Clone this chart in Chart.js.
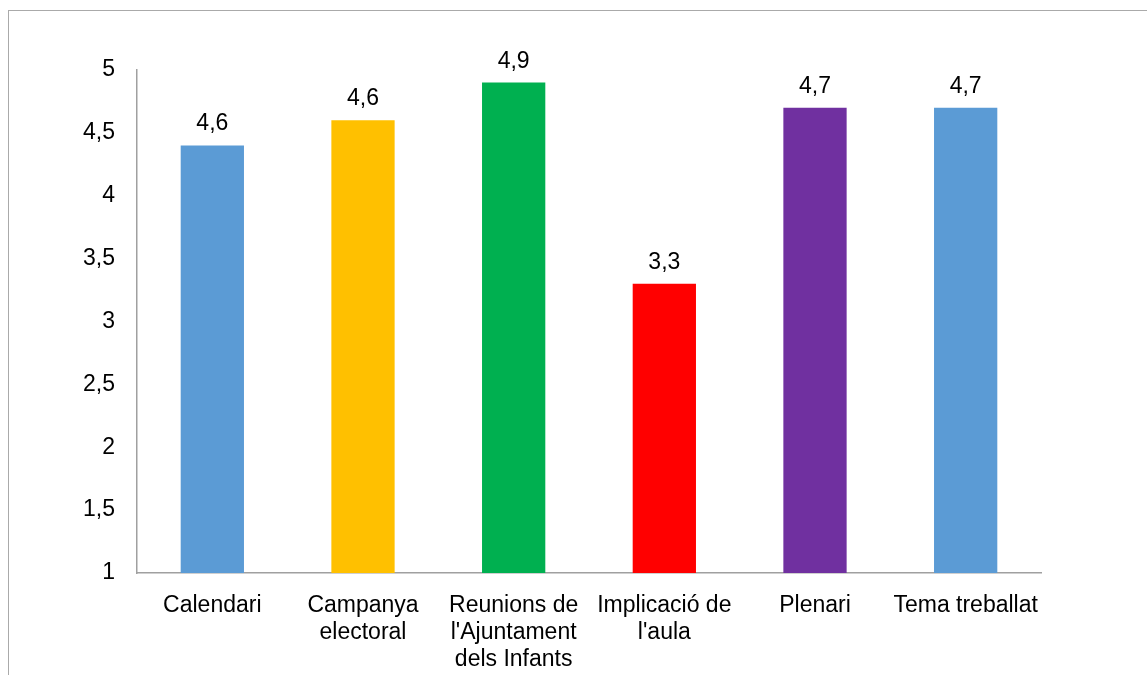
<!DOCTYPE html>
<html>
<head>
<meta charset="utf-8">
<script src="https://cdn.jsdelivr.net/npm/chart.js@4/dist/chart.umd.min.js"></script>
<style>
  html, body { margin: 0; padding: 0; background: #fff; overflow: hidden; }
  #marc { position: absolute; left: 8px; top: 10px; width: 1200px; height: 700px;
          border-left: 1px solid #aaa; border-top: 1px solid #aaa; }
  #wrap { position: absolute; left: 0; top: 0; width: 1147px; height: 675px; }
</style>
</head>
<body>
<div id="marc"></div>
<div id="wrap"><canvas id="grafic"></canvas></div>
<script>
// categories
const categories = [
  "Calendari",
  ["Campanya", "electoral"],
  ["Reunions de", "l'Ajuntament", "dels Infants"],
  ["Implicació de", "l'aula"],
  "Plenari",
  "Tema treballat",
];
// bar heights as drawn
const valors = [4.4, 4.6, 4.9, 3.3, 4.7, 4.7];
// value labels as printed above bars
const etiquetes = ["4,6", "4,6", "4,9", "3,3", "4,7", "4,7"];
const colors = ["#5B9BD5", "#FFC000", "#00B050", "#FF0000", "#7030A0", "#5B9BD5"];
const yMin = 1, yMax = 5, yPas = 0.5;

const fontBase = { family: "'Liberation Sans', Arial, sans-serif", size: 23, lineHeight: 1.17 };

const etiquetesPlugin = {
  id: "etiquetes",
  afterDatasetsDraw(chart) {
    const ctx = chart.ctx;
    const meta = chart.getDatasetMeta(0);
    ctx.save();
    ctx.fillStyle = "#000";
    ctx.font = "23px " + fontBase.family;
    ctx.textAlign = "center";
    ctx.textBaseline = "alphabetic";
    meta.data.forEach((bar, i) => {
      ctx.fillText(etiquetes[i], bar.x, bar.y - 15);
    });
    ctx.restore();
  },
};

new Chart(document.getElementById("grafic"), {
  type: "bar",
  data: {
    labels: categories,
    datasets: [
      {
        data: valors,
        backgroundColor: colors,
        borderWidth: 0,
        categoryPercentage: 1,
        barPercentage: 0.42,
      },
    ],
  },
  options: {
    responsive: true,
    maintainAspectRatio: false,
    animation: false,
    layout: { padding: { top: 70, right: 106, left: 0, bottom: 0 } },
    plugins: { legend: { display: false }, tooltip: { enabled: false } },
    scales: {
      x: {
        grid: { display: false, drawTicks: false },
        border: { display: true, color: "#a0a0a0", width: 1.5 },
        ticks: {
          color: "#000",
          font: fontBase,
          padding: 19,
          maxRotation: 0,
          autoSkip: false,
        },
        afterFit(scale) { scale.height = 102; },
      },
      y: {
        min: yMin,
        max: yMax,
        grid: { display: false, drawTicks: false },
        border: { display: true, color: "#a0a0a0", width: 1.5 },
        ticks: {
          stepSize: yPas,
          color: "#000",
          font: fontBase,
          padding: 22,
          callback: (v) => String(v).replace(".", ","),
        },
        afterFit(scale) { scale.width = 137; },
      },
    },
  },
  plugins: [etiquetesPlugin],
});
</script>
</body>
</html>
